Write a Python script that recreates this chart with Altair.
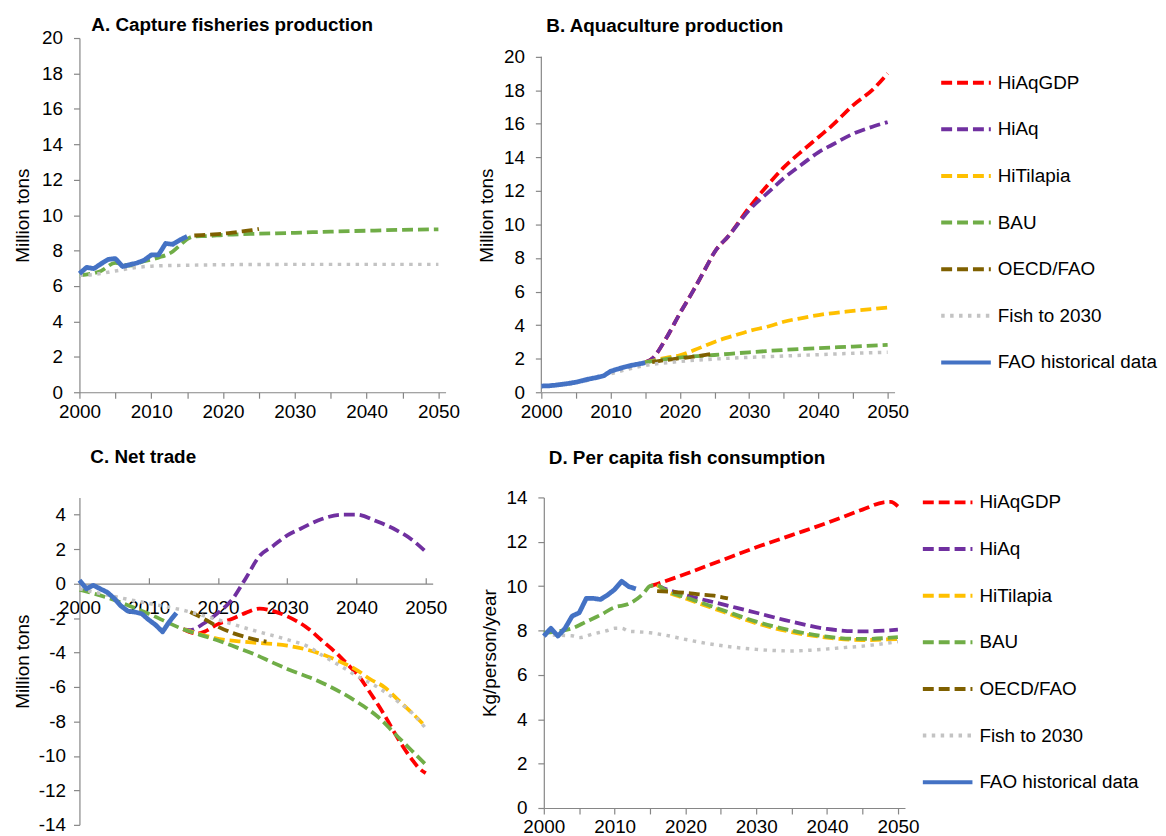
import altair as alt
import pandas as pd

FONT = "Liberation Sans"
SERIES = ["HiAqGDP", "HiAq", "HiTilapia", "BAU", "OECD/FAO", "Fish to 2030", "FAO historical data"]
COLORS = ["#FF0000", "#7030A0", "#FFC000", "#70AD47", "#7F6000", "#C3C3C3", "#4472C4"]
DASHES = [[11, 5], [11, 5], [11, 5], [11, 5], [11, 5], [3.5, 5.5], [1, 0]]

# ---------------- A. Capture fisheries production ----------------
A_HIST_YEARS = list(range(2000, 2016))
A_HIST = [6.7, 7.05, 6.98, 7.25, 7.5, 7.55, 7.1, 7.2, 7.3, 7.45, 7.75, 7.75, 8.4, 8.35, 8.6, 8.8]
A_BAU_YEARS = [2000, 2003, 2005, 2007, 2009, 2011, 2013, 2014, 2015, 2016, 2018, 2020, 2025, 2030, 2035, 2040, 2045, 2050]
A_BAU = [6.6, 6.85, 7.3, 7.15, 7.4, 7.6, 7.95, 8.3, 8.65, 8.8, 8.82, 8.88, 8.95, 9.0, 9.07, 9.12, 9.17, 9.2]
A_OECD_YEARS = [2016, 2018, 2020, 2022, 2024, 2025]
A_OECD = [8.85, 8.9, 8.95, 9.05, 9.15, 9.22]
A_FISH_YEARS = [2000, 2002, 2005, 2008, 2010, 2015, 2020, 2030, 2040, 2050]
A_FISH = [6.6, 6.65, 6.85, 7.05, 7.12, 7.17, 7.2, 7.22, 7.22, 7.22]

# ---------------- B. Aquaculture production ----------------
B_HIST_YEARS = list(range(2000, 2016))
B_HIST = [0.37, 0.38, 0.42, 0.47, 0.53, 0.6, 0.7, 0.8, 0.88, 0.98, 1.25, 1.38, 1.5, 1.6, 1.68, 1.76]
B_HIAQ_YEARS = [2015, 2016, 2018, 2020, 2022, 2024, 2025, 2027, 2030, 2033, 2035, 2038, 2040, 2042, 2045, 2048, 2050]
B_HIAQGDP = [1.78, 2.0, 3.2, 4.7, 6.1, 7.6, 8.35, 9.3, 11.0, 12.5, 13.4, 14.5, 15.2, 15.9, 17.1, 18.1, 19.0]
B_HIAQ = [1.78, 2.0, 3.2, 4.7, 6.1, 7.6, 8.35, 9.3, 10.85, 12.0, 12.75, 13.7, 14.3, 14.75, 15.4, 15.85, 16.1]
B_TIL_YEARS = [2015, 2018, 2020, 2022, 2025, 2028, 2030, 2033, 2035, 2038, 2040, 2045, 2050]
B_TIL = [1.78, 2.05, 2.2, 2.5, 3.0, 3.4, 3.65, 3.95, 4.2, 4.45, 4.6, 4.85, 5.05]
B_BAU_YEARS = [2015, 2018, 2020, 2025, 2030, 2035, 2040, 2045, 2050]
B_BAU = [1.78, 1.98, 2.07, 2.22, 2.38, 2.52, 2.63, 2.72, 2.82]
B_OECD_YEARS = [2016, 2018, 2020, 2022, 2025]
B_OECD = [1.8, 1.92, 2.02, 2.12, 2.32]
B_FISH_YEARS = [2000, 2005, 2010, 2015, 2020, 2025, 2030, 2035, 2040, 2045, 2050]
B_FISH = [0.35, 0.55, 1.1, 1.6, 1.83, 1.98, 2.08, 2.16, 2.24, 2.32, 2.38]
B_AXIS_TOP = 20

# ---------------- C. Net trade ----------------
C_HIST_YEARS = list(range(2000, 2015))
C_HIST = [0.2, -0.3, -0.1, -0.3, -0.5, -0.85, -1.3, -1.6, -1.65, -1.75, -2.1, -2.4, -2.8, -2.2, -1.7]
C_BAU_YEARS = [2000, 2005, 2010, 2015, 2018, 2020, 2023, 2025, 2028, 2030, 2035, 2040, 2043, 2046, 2048, 2050]
C_BAU = [-0.35, -0.95, -1.75, -2.65, -3.05, -3.3, -3.75, -4.05, -4.6, -4.95, -5.75, -6.85, -7.7, -8.9, -9.7, -10.5]
C_HIAQGDP_YEARS = [2015, 2017, 2018, 2020, 2022, 2024, 2026, 2028, 2030, 2033, 2035, 2037, 2039, 2040, 2042, 2044, 2046, 2048, 2049, 2050]
C_HIAQGDP = [-2.65, -2.9, -2.8, -2.35, -2.05, -1.7, -1.45, -1.6, -1.9, -2.6, -3.3, -4.0, -4.8, -5.2, -6.35, -7.6, -9.0, -10.2, -10.7, -11.0]
C_HIAQ_YEARS = [2015, 2016, 2018, 2020, 2022, 2024, 2026, 2028, 2030, 2032, 2035, 2038, 2040, 2043, 2046, 2048, 2050]
C_HIAQ = [-2.65, -2.7, -2.3, -1.7, -0.95, 0.3, 1.6, 2.2, 2.8, 3.2, 3.75, 4.0, 4.0, 3.6, 3.05, 2.55, 1.85]
C_TIL_YEARS = [2015, 2018, 2020, 2023, 2026, 2030, 2033, 2035, 2038, 2040, 2042, 2044, 2046, 2048, 2050]
C_TIL = [-2.65, -3.0, -3.2, -3.35, -3.45, -3.6, -3.85, -4.1, -4.6, -5.0, -5.55, -6.0, -6.75, -7.5, -8.3]
C_OECD_YEARS = [2016, 2018, 2020, 2022, 2024, 2026, 2027]
C_OECD = [-1.65, -2.05, -2.5, -2.85, -3.1, -3.3, -3.37]
C_FISH_YEARS = [2000, 2005, 2010, 2015, 2020, 2025, 2030, 2033, 2035, 2038, 2040, 2043, 2046, 2048, 2050]
C_FISH = [-0.3, -0.75, -1.15, -1.55, -2.1, -2.7, -3.25, -3.65, -4.15, -4.85, -5.35, -6.0, -6.85, -7.5, -8.4]

# ---------------- D. Per capita fish consumption ----------------
D_HIST_YEARS = list(range(2000, 2014))
D_HIST = [7.75, 8.1, 7.75, 8.1, 8.65, 8.8, 9.45, 9.45, 9.4, 9.6, 9.85, 10.22, 9.98, 9.88]
D_BAU_YEARS = [2000, 2004, 2006, 2008, 2010, 2012, 2014, 2015, 2016, 2017, 2020, 2025, 2030, 2035, 2040, 2045, 2050]
D_BAU = [7.9, 8.1, 8.4, 8.7, 9.05, 9.2, 9.65, 10.0, 10.05, 9.85, 9.5, 8.95, 8.4, 8.0, 7.72, 7.62, 7.7]
D_PROJ_YEARS = [2016, 2017, 2020, 2025, 2030, 2035, 2040, 2045, 2050]
D_TIL = [10.05, 9.82, 9.45, 8.88, 8.33, 7.93, 7.68, 7.57, 7.62]
D_HIAQ = [10.05, 9.9, 9.6, 9.2, 8.8, 8.4, 8.07, 7.96, 8.04]
D_HIAQGDP_YEARS = [2015, 2016, 2020, 2025, 2030, 2035, 2040, 2045, 2048, 2049, 2050]
D_HIAQGDP = [10.0, 10.1, 10.55, 11.15, 11.75, 12.3, 12.85, 13.45, 13.78, 13.8, 13.6]
D_OECD_YEARS = [2016, 2018, 2020, 2022, 2024, 2026]
D_OECD = [9.78, 9.75, 9.7, 9.63, 9.57, 9.45]
D_FISH_YEARS = [2000, 2004, 2005, 2007, 2009, 2010, 2011, 2012, 2013, 2015, 2017, 2020, 2023, 2026, 2030, 2035, 2038, 2042, 2046, 2050]
D_FISH = [7.8, 7.76, 7.68, 7.85, 8.0, 8.1, 8.1, 7.97, 7.95, 7.9, 7.8, 7.6, 7.42, 7.28, 7.15, 7.08, 7.12, 7.22, 7.33, 7.5]


def frame(*series):
    rows = []
    for name, years, vals in series:
        rows += [{"series": name, "year": y, "value": v} for y, v in zip(years, vals)]
    return pd.DataFrame(rows)


def make_legend(lx, ly):
    return alt.Legend(
        orient="none", legendX=lx, legendY=ly, title=None, direction="vertical",
        symbolType="stroke", symbolSize=2500, symbolStrokeWidth=4,
        labelFont=FONT, labelFontSize=19, labelColor="#000", labelOffset=5,
        labelLimit=400, rowPadding=10, padding=0,
    )


def panel(hist, dashed, dotted, title, dx, toff, ydom, yvals, ytitle, w, h,
          legend=None, ylab_off=17, ytp=7, net=False, axis_top=None):
    xsc = alt.Scale(domain=[2000, 2051], nice=False, zero=False)
    ysc = alt.Scale(domain=ydom, nice=False, zero=False)
    yax = alt.Axis(values=yvals, labelExpr="'' + datum.value", title=ytitle,
                   tickSize=6, labelPadding=ylab_off - 6, titlePadding=ytp, grid=False,
                   domain=axis_top is None)
    span = ydom[1] - ydom[0]
    if net:
        ax_hist = alt.Axis(orient="bottom", offset=-h * (0 - ydom[0]) / span,
                           values=list(range(2000, 2051, 10)), labelExpr="'' + datum.value",
                           ticks=False, tickSize=0, labelPadding=15, title=None, grid=False,
                           labelFlush=False, labelOverlap=False)
        ax_dash = alt.Axis(orient="top", offset=-h * ydom[1] / span,
                           values=list(range(2010, 2051, 10)), labels=False, domain=False,
                           tickSize=6, title=None, grid=False)
        ax_dot = None
    else:
        ax_hist = alt.Axis(values=list(range(2000, 2051, 5)),
                           labelExpr="datum.value % 10 == 0 ? '' + datum.value : ''",
                           tickSize=6, labelPadding=4, title=None, grid=False,
                           labelFlush=False, labelOverlap=False)
        ax_dash = ax_hist
        ax_dot = ax_hist

    def enc(ax):
        return dict(
            x=alt.X("year:Q", scale=xsc, axis=ax),
            y=alt.Y("value:Q", scale=ysc, axis=yax),
            color=alt.Color("series:N", scale=alt.Scale(domain=SERIES, range=COLORS), legend=legend),
            strokeDash=alt.StrokeDash("series:N", scale=alt.Scale(domain=SERIES, range=DASHES), legend=legend),
        )

    layers = []
    if axis_top is not None:
        axis_df = pd.DataFrame({"year": [2000], "value": [0], "top": [axis_top]})
        layers.append(
            alt.Chart(axis_df).mark_rule(color="#868686", strokeWidth=1.2).encode(
                x=alt.X("year:Q", scale=xsc, axis=ax_dash),
                y=alt.Y("value:Q", scale=ysc, axis=yax),
                y2="top:Q",
            )
        )
    layers.append(alt.Chart(dashed).mark_line(strokeWidth=3.8, interpolate="monotone", strokeJoin="round").encode(**enc(ax_dash)))
    layers.append(alt.Chart(dotted).mark_line(strokeWidth=3.5, interpolate="monotone").encode(**enc(ax_dot)))
    layers.append(alt.Chart(hist).mark_line(strokeWidth=4.8, strokeJoin="round").encode(**enc(ax_hist)))
    ch = alt.layer(*layers).properties(
        width=w, height=h,
        title=alt.TitleParams(title, anchor="start", frame="group", dx=dx, offset=toff,
                              font=FONT, fontSize=19, fontWeight="bold", color="#000",
                              baseline="bottom"),
    )
    if net:
        ch = ch.resolve_axis(x="independent")
    return ch


A = panel(
    frame(("FAO historical data", A_HIST_YEARS, A_HIST)),
    frame(("BAU", A_BAU_YEARS, A_BAU), ("OECD/FAO", A_OECD_YEARS, A_OECD)),
    frame(("Fish to 2030", A_FISH_YEARS, A_FISH)),
    "A. Capture fisheries production", 12, -24.7, [0, 20], list(range(0, 21, 2)), "Million tons", 369, 357,
    ytp=9,
)
B = panel(
    frame(("FAO historical data", B_HIST_YEARS, B_HIST)),
    frame(("HiAqGDP", B_HIAQ_YEARS, B_HIAQGDP), ("HiAq", B_HIAQ_YEARS, B_HIAQ),
          ("HiTilapia", B_TIL_YEARS, B_TIL), ("BAU", B_BAU_YEARS, B_BAU),
          ("OECD/FAO", B_OECD_YEARS, B_OECD)),
    frame(("Fish to 2030", B_FISH_YEARS, B_FISH)),
    "B. Aquaculture production", 5, -17.2, [0, 21.11], list(range(0, 21, 2)), "Million tons", 356, 357,
    legend=make_legend(401, 18), axis_top=B_AXIS_TOP,
)
C = panel(
    frame(("FAO historical data", C_HIST_YEARS, C_HIST)),
    frame(("HiAqGDP", C_HIAQGDP_YEARS, C_HIAQGDP), ("HiAq", C_HIAQ_YEARS, C_HIAQ),
          ("HiTilapia", C_TIL_YEARS, C_TIL), ("BAU", C_BAU_YEARS, C_BAU),
          ("OECD/FAO", C_OECD_YEARS, C_OECD)),
    frame(("Fish to 2030", C_FISH_YEARS, C_FISH)),
    "C. Net trade", 11, 12, [-14, 5], list(range(-14, 5, 2)), "Million tons", 356, 330,
    ylab_off=14, ytp=6, net=True,
)
D = panel(
    frame(("FAO historical data", D_HIST_YEARS, D_HIST)),
    frame(("HiAqGDP", D_HIAQGDP_YEARS, D_HIAQGDP), ("HiAq", D_PROJ_YEARS, D_HIAQ),
          ("HiTilapia", D_PROJ_YEARS, D_TIL), ("BAU", D_BAU_YEARS, D_BAU),
          ("OECD/FAO", D_OECD_YEARS, D_OECD)),
    frame(("Fish to 2030", D_FISH_YEARS, D_FISH)),
    "D. Per capita fish consumption", 5, -11, [0, 14], list(range(0, 15, 2)), "Kg/person/year", 364, 313,
    legend=make_legend(380, -22),
)

row1 = alt.hconcat(A, B, spacing=17.5).resolve_scale(color="independent", strokeDash="independent")
row2 = alt.hconcat(C, D, spacing=32).resolve_scale(color="independent", strokeDash="independent")

chart = (
    alt.vconcat(row1, row2, spacing=27)
    .resolve_scale(color="independent", strokeDash="independent")
    .properties(padding={"left": 5, "top": 4, "right": 0, "bottom": 0})
    .configure_axis(labelFont=FONT, labelFontSize=19, titleFont=FONT, titleFontSize=19,
                    titleFontWeight="normal", labelColor="#000", titleColor="#000",
                    domainColor="#868686", tickColor="#868686", domainWidth=1.2, tickWidth=1.2)
    .configure_view(strokeWidth=0)
)

chart.save("out.html", embed_options={"renderer": "svg", "actions": False})
